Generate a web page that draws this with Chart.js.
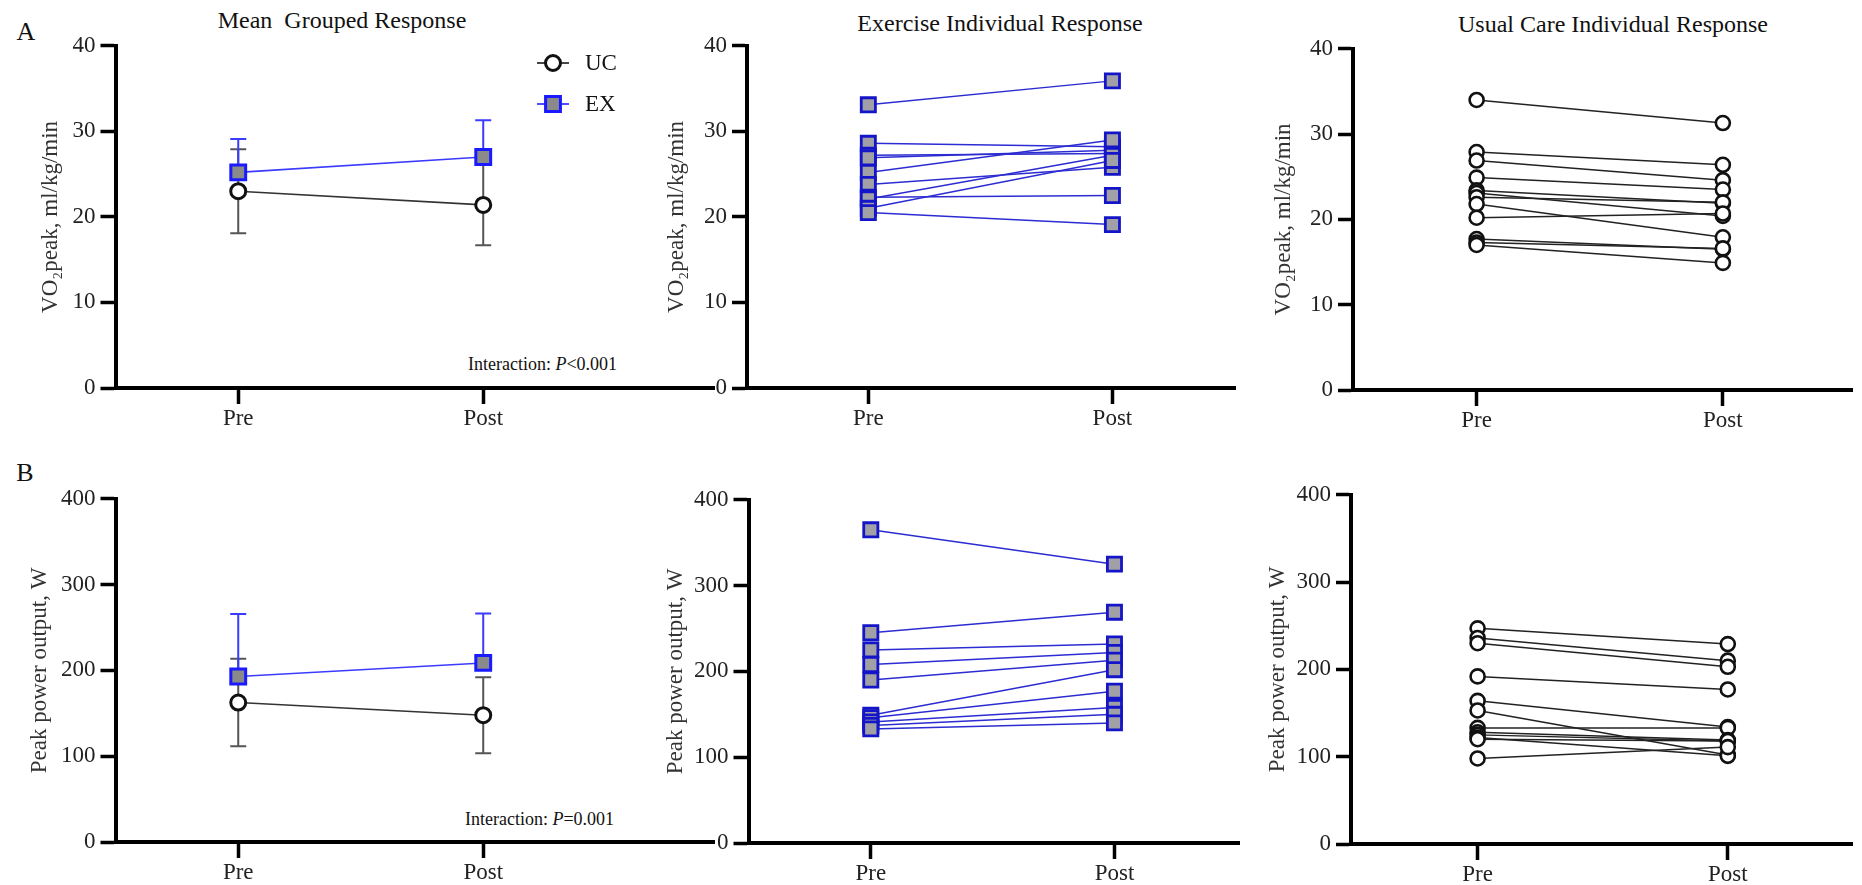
<!DOCTYPE html>
<html><head><meta charset="utf-8">
<script src="https://cdn.jsdelivr.net/npm/chart.js@4.4.1/dist/chart.umd.min.js"></script>
<style>
html,body{margin:0;padding:0;background:#fff;width:1862px;height:885px;overflow:hidden;position:relative;}
.txt{position:absolute;font-family:'Liberation Serif','Times New Roman',serif;color:#111;white-space:nowrap;line-height:1;transform:translate(-50%,-50%);}
.note{position:absolute;font-family:'Liberation Serif','Times New Roman',serif;color:#111;white-space:nowrap;line-height:1;transform:translateY(-50%);font-size:18px;}
</style></head><body>
<div class="txt" style="left:26px;top:32px;font-size:26px;">A</div>
<div class="txt" style="left:25px;top:473px;font-size:26px;">B</div>
<div class="txt" style="left:342px;top:20px;font-size:24px;">Mean&nbsp;&nbsp;Grouped Response</div>
<div class="txt" style="left:1000px;top:23px;font-size:24px;">Exercise Individual Response</div>
<div class="txt" style="left:1613px;top:24px;font-size:24px;">Usual Care Individual Response</div>
<div class="note" style="left:468px;top:364px;">Interaction: <i>P</i>&lt;0.001</div>
<div class="note" style="left:465px;top:819px;">Interaction: <i>P</i>=0.001</div>
<script>
// ---------- data ----------
const timepoints = ['Pre', 'Post'];
const groupNames = ['UC', 'EX'];

const vo2Ticks = [0, 10, 20, 30, 40];
const powerTicks = [0, 100, 200, 300, 400];

// Mean grouped response, VO2peak
const vo2MeanUC = [23.0, 21.4];
const vo2SdUC = [4.9, 4.7];
const vo2MeanEX = [25.2, 27.0];
const vo2SdEX = [3.9, 4.3];

// Individual VO2peak
const vo2PreEX  = [33.1, 28.6, 27.2, 26.9, 25.2, 23.8, 22.3, 22.1, 21.0, 20.5];
const vo2PostEX = [35.9, 28.2, 27.4, 27.8, 29.0, 25.8, 22.5, 27.2, 26.6, 19.1];
const vo2PreUC  = [34.0, 27.9, 26.9, 24.9, 23.4, 23.1, 22.6, 21.8, 20.2, 17.7, 17.3, 17.0];
const vo2PostUC = [31.3, 26.4, 24.6, 23.5, 21.9, 20.4, 22.0, 17.9, 20.7, 16.5, 16.6, 14.9];

// Mean grouped response, peak power
const powerMeanUC = [162.5, 147.8];
const powerSdUC = [51.0, 44.3];
const powerMeanEX = [192.9, 208.7];
const powerSdEX = [72.7, 57.7];

// Individual peak power
const powerPreEX  = [365, 245, 225, 208, 190, 149, 146, 141, 137, 133];
const powerPostEX = [325, 269, 232, 222, 213, 202, 177, 158, 150, 140];
const powerPreUC  = [247, 236, 230, 192, 164, 153, 133, 128, 125, 122, 120, 98];
const powerPostUC = [229, 210, 203, 177, 134, 102, 133, 119, 118, 101, 118, 111];

// ---------- styles ----------
const FONT = "'Liberation Serif','Times New Roman',serif";
const BLUE_LINE = '#2c2cd2';
const BLUE_MEAN = '#3b3bff';
const BLUE_EDGE = '#1414c8';
const GREY_FILL = '#a0a0a6';
const GREY_MEAN = '#8a8a8a';
const BLACK = '#111';

const styleEX = {pointStyle:'rect', radius:10, borderWidth:2.8, borderColor:BLUE_EDGE, backgroundColor:GREY_FILL, line:BLUE_LINE};
const styleUC = {pointStyle:'circle', radius:7, borderWidth:2.6, borderColor:BLACK, backgroundColor:'#fff', line:'#222'};

function toPoints(values, idx) { return values.map(v => ({x: idx, y: v})); }

function individualDatasets(pre, post, st) {
  const ds = pre.map((v, i) => ({
    data: [{x:0, y:v}, {x:1, y:post[i]}],
    borderColor: st.line, borderWidth: 1.5, pointRadius: 0, order: 2, showLine: true
  }));
  ds.push({
    data: toPoints(pre, 0).concat(toPoints(post, 1)),
    showLine: false, order: 1,
    pointStyle: st.pointStyle, pointRadius: st.radius, pointBorderWidth: st.borderWidth,
    pointBorderColor: st.borderColor, pointBackgroundColor: st.backgroundColor
  });
  return ds;
}

function meanDatasets(mUC, mEX) {
  return [
    {data: mUC.map((v,i)=>({x:i,y:v})), borderColor:'#333', borderWidth:1.6, showLine:true,
     pointStyle:'circle', pointRadius:7.5, pointBorderWidth:3, pointBorderColor:BLACK, pointBackgroundColor:'#fff', order:2},
    {data: mEX.map((v,i)=>({x:i,y:v})), borderColor:BLUE_MEAN, borderWidth:1.6, showLine:true,
     pointStyle:'rect', pointRadius:10.5, pointBorderWidth:3, pointBorderColor:'#1a1aff', pointBackgroundColor:GREY_MEAN, order:1}
  ];
}

function errorBars(groups) {
  return {
    id: 'errbars',
    beforeDatasetsDraw(chart) {
      const {ctx, scales:{x, y}} = chart;
      groups.forEach(g => {
        ctx.save();
        ctx.strokeStyle = g.color; ctx.lineWidth = 2;
        g.mean.forEach((m, i) => {
          const px = x.getPixelForValue(i);
          const hi = y.getPixelForValue(m + g.sd[i]);
          const lo = y.getPixelForValue(g.lower ? m - g.sd[i] : m);
          ctx.beginPath();
          ctx.moveTo(px, hi); ctx.lineTo(px, lo);
          ctx.moveTo(px - 8, hi); ctx.lineTo(px + 8, hi);
          if (g.lower) { ctx.moveTo(px - 8, lo); ctx.lineTo(px + 8, lo); }
          ctx.stroke();
        });
        ctx.restore();
      });
    }
  };
}

function legendPlugin(cx, cy0, dy) {
  return {
    id: 'legendCustom',
    afterDatasetsDraw(chart) {
      const ctx = chart.ctx;
      const items = [
        {name: groupNames[0], line:'#333', st:{pointStyle:'circle', radius:7.5, borderWidth:3}, stroke:BLACK, fill:'#fff'},
        {name: groupNames[1], line:BLUE_MEAN, st:{pointStyle:'rect', radius:10.5, borderWidth:3}, stroke:'#1a1aff', fill:GREY_MEAN}
      ];
      items.forEach((it, k) => {
        const yy = cy0 + k * dy;
        ctx.save();
        ctx.strokeStyle = it.line; ctx.lineWidth = 1.8;
        ctx.beginPath(); ctx.moveTo(cx - 16, yy); ctx.lineTo(cx + 16, yy); ctx.stroke();
        ctx.fillStyle = it.fill; ctx.strokeStyle = it.stroke; ctx.lineWidth = it.st.borderWidth;
        Chart.helpers.drawPoint(ctx, it.st, cx, yy);
        ctx.fillStyle = '#111';
        ctx.font = '23px ' + FONT;
        ctx.textBaseline = 'middle'; ctx.textAlign = 'left';
        ctx.fillText(it.name, cx + 32, yy + 1);
        ctx.restore();
      });
    }
  };
}

function panel(box, datasets, ticksArr, yLabel, plugins) {
  const cv = document.createElement('canvas');
  cv.width = box.width; cv.height = box.height;
  cv.style.cssText = `position:absolute;left:${box.left}px;top:${box.top}px;width:${box.width}px;height:${box.height}px;`;
  document.body.appendChild(cv);
  return new Chart(cv, {
    type: 'line',
    data: { datasets },
    plugins: plugins || [],
    options: {
      responsive: false, animation: false, devicePixelRatio: 1,
      layout: { padding: { top: box.padTop, right: 0, left: 0, bottom: 0 } },
      plugins: { legend: { display: false }, tooltip: { enabled: false } },
      elements: { line: { tension: 0 } },
      datasets: { line: { clip: false } },
      scales: {
        x: {
          type: 'linear', min: box.xmin, max: box.xmax,
          afterBuildTicks: s => { s.ticks = timepoints.map((_, i) => ({value: i})); },
          afterFit: s => { s.height = 50; },
          grid: { display: true, drawOnChartArea: false, drawTicks: true, tickLength: 16, tickWidth: 3.5, tickColor: '#000' },
          border: { display: true, width: 4, color: '#000' },
          ticks: { autoSkip: false, maxRotation: 0, padding: 1, color: '#222',
                   font: { family: FONT, size: 23 }, callback: v => timepoints[v] ?? '' }
        },
        y: {
          type: 'linear', min: ticksArr[0], max: ticksArr[ticksArr.length - 1],
          afterFit: s => { s.width = box.wy; },
          ticks: { stepSize: ticksArr[1] - ticksArr[0], padding: 5, color: '#222', font: { family: FONT, size: 23 } },
          grid: { display: true, drawOnChartArea: false, drawTicks: true, tickLength: 15, tickWidth: 3.5, tickColor: '#000' },
          border: { display: true, width: 4, color: '#000' },
          title: { display: true, text: yLabel, color: '#333', font: { family: FONT, size: 23 }, padding: { top: 0, bottom: 0 } }
        }
      }
    }
  });
}

const vo2Label = 'VO\u2082peak, ml/kg/min';
const powLabel = 'Peak power output, W';

// A1
panel({left:37, top:27, width:691, height:411, wy:78.5, padTop:16, xmin:-0.501, xmax:1.944},
  meanDatasets(vo2MeanUC, vo2MeanEX), vo2Ticks, vo2Label,
  [errorBars([{mean:vo2MeanUC, sd:vo2SdUC, color:'#555', lower:true}, {mean:vo2MeanEX, sd:vo2SdEX, color:BLUE_MEAN, lower:false}]),
   legendPlugin(516, 36, 41)]);
// A2
panel({left:663, top:27, width:585, height:411, wy:84, padTop:16, xmin:-0.497, xmax:1.503},
  individualDatasets(vo2PreEX, vo2PostEX, styleEX), vo2Ticks, vo2Label);
// A3
panel({left:1270, top:30, width:592, height:410, wy:83, padTop:16, xmin:-0.502, xmax:1.526},
  individualDatasets(vo2PreUC, vo2PostUC, styleUC), vo2Ticks, vo2Label);
// B1
panel({left:26, top:480, width:702, height:412, wy:89.5, padTop:16, xmin:-0.501, xmax:1.944},
  meanDatasets(powerMeanUC, powerMeanEX), powerTicks, powLabel,
  [errorBars([{mean:powerMeanUC, sd:powerSdUC, color:'#555', lower:true}, {mean:powerMeanEX, sd:powerSdEX, color:BLUE_MEAN, lower:false}])]);
// B2
panel({left:662, top:481, width:590, height:412, wy:86.5, padTop:16, xmin:-0.502, xmax:1.512},
  individualDatasets(powerPreEX, powerPostEX, styleEX), powerTicks, powLabel);
// B3
panel({left:1264, top:476, width:598, height:418, wy:87, padTop:16, xmin:-0.506, xmax:1.498},
  individualDatasets(powerPreUC, powerPostUC, styleUC), powerTicks, powLabel);
</script>
</body></html>
